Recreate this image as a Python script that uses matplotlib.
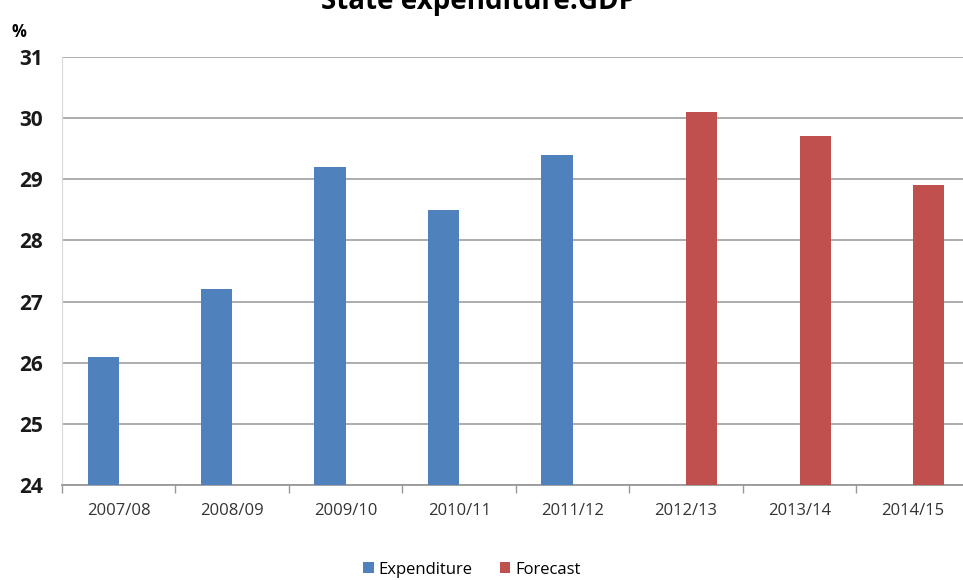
import matplotlib.pyplot as plt
import numpy as np

plt.rcParams["font.family"] = ["Open Sans", "DejaVu Sans"]

years = ["2007/08", "2008/09", "2009/10", "2010/11", "2011/12", "2012/13", "2013/14", "2014/15"]
expenditure = [26.1, 27.2, 29.2, 28.5, 29.4, None, None, None]
forecast = [None, None, None, None, None, 30.1, 29.7, 28.9]

blue = "#4f81bd"
red = "#c0504d"
base = 24

fig = plt.figure(figsize=(9.63, 5.8), dpi=100)
ax = fig.add_axes([0.0644, 0.1638, 0.9426, 0.7379])

x = np.arange(len(years))
width = 0.275
exp_vals = [np.nan if v is None else v - base for v in expenditure]
fc_vals = [np.nan if v is None else v - base for v in forecast]
ax.bar(x - width / 2, exp_vals, width, bottom=base, color=blue, label="Expenditure", zorder=3)
ax.bar(x + width / 2, fc_vals, width, bottom=base, color=red, label="Forecast", zorder=3)

ax.set_xlim(-0.5, len(years) - 0.5)
ax.set_ylim(24, 31)
ax.set_yticks(range(24, 32))
ax.set_yticklabels([str(v) for v in range(24, 32)], fontsize=15, fontweight="bold", color="#1a1a1a")
ax.set_xticks(x)
ax.set_xticklabels(years, fontsize=12, color="#333333")
ax.xaxis.set_minor_locator(plt.FixedLocator(np.arange(-0.5, len(years), 1)))
ax.tick_params(axis="x", which="major", length=0, pad=13)
ax.tick_params(axis="x", which="minor", length=6, color="#999999", width=1)
ax.tick_params(axis="y", length=0, pad=14)

ax.grid(axis="y", color="#a6a6a6", linewidth=1.3, zorder=0)
for side in ["top", "right"]:
    ax.spines[side].set_visible(False)
ax.spines["left"].set_color("#d9d9d9")
ax.spines["bottom"].set_color("#999999")
ax.spines["bottom"].set_linewidth(1.3)

fig.text(0.497, 0.998, "State expenditure:GDP", ha="center", va="center", fontsize=20, fontweight="bold")
fig.text(0.012, 0.945, "%", ha="left", va="center", fontsize=12, fontweight="bold")

fig.legend(loc="center", bbox_to_anchor=(0.49, 0.018), ncol=2, frameon=False, fontsize=12,
           handlelength=0.65, handleheight=0.65, columnspacing=1.6, handletextpad=0.3)

fig.savefig("out.png", dpi=100)
